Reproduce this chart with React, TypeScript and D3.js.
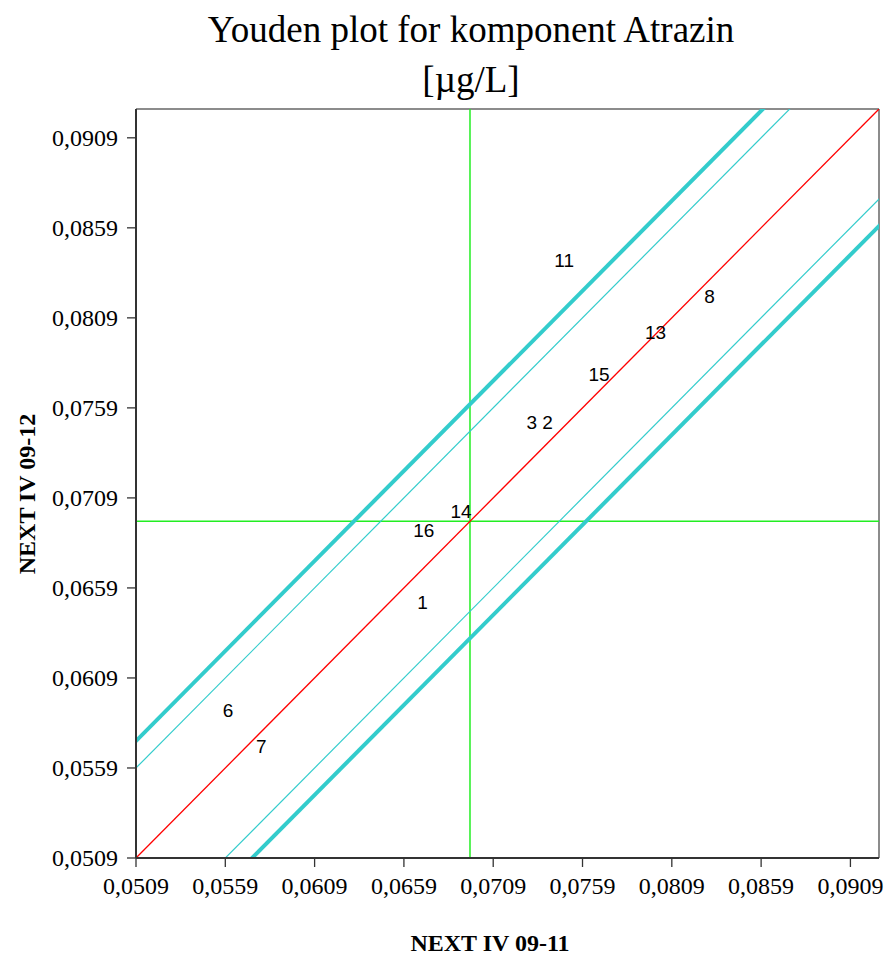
import React from 'react';
import * as d3 from 'd3';

// lab results, sample 09-11 (x) vs 09-12 (y)
const labIds = ['1', '2', '3', '6', '7', '8', '11', '13', '14', '15', '16'];
const sampleA = [0.06695, 0.07394, 0.07306, 0.05606, 0.05792, 0.08301, 0.07487, 0.07999, 0.0691, 0.07682, 0.06701];
const sampleB = [0.0651, 0.07508, 0.07508, 0.05908, 0.05708, 0.08208, 0.08412, 0.08008, 0.07014, 0.07779, 0.06908];

const tickVals = [0.0509, 0.0559, 0.0609, 0.0659, 0.0709, 0.0759, 0.0809, 0.0859, 0.0909];
const axisMin = 0.0509;
const axisMax = 0.0925;
const median = 0.0696;
// parallel limits around y = x
const thinOffsets = [-0.005, 0.005];
const thickOffsets = [-0.0065, 0.0065];

const W = 892;
const H = 957;
const margin = { top: 109, right: 13, bottom: 99, left: 136 };

export default function App() {
  const x = d3.scaleLinear().domain([axisMin, axisMax]).range([margin.left, W - margin.right]);
  const y = d3.scaleLinear().domain([axisMin, axisMax]).range([H - margin.bottom, margin.top]);
  const fmt = (v: number) => d3.format('.4f')(v).replace('.', ',');

  const x0 = x.range()[0], x1 = x.range()[1];
  const y0 = y.range()[0], y1 = y.range()[1];

  const diag = (off: number) => {
    const line = d3.line<number>().x((v) => x(v)).y((v) => y(v + off));
    return line([axisMin - 0.01, axisMax + 0.01]) as string;
  };

  return (
    <svg width={W} height={H} style={{ position: 'absolute', left: 0, top: 0, background: '#fff' }}>
      <defs>
        <clipPath id="plot">
          <rect x={x0} y={y1} width={x1 - x0} height={y0 - y1} />
        </clipPath>
      </defs>

      <text x={471} y={42} textAnchor="middle" fontFamily="Liberation Serif" fontSize={37}>
        Youden plot for komponent Atrazin
      </text>
      <text x={471} y={92} textAnchor="middle" fontFamily="Liberation Serif" fontSize={37}>
        [µg/L]
      </text>

      {/* frame top/right */}
      <line x1={x0} x2={x1} y1={y1} y2={y1} stroke="#8c8c8c" strokeWidth={2} />
      <line x1={x1} x2={x1} y1={y1} y2={y0} stroke="#8c8c8c" strokeWidth={2} />

      <g clipPath="url(#plot)">
        <line x1={x(median)} x2={x(median)} y1={y0} y2={y1} stroke="#22ee22" strokeWidth={1.5} />
        <line x1={x0} x2={x1} y1={y(median)} y2={y(median)} stroke="#22ee22" strokeWidth={1.5} />
        {thickOffsets.map((o) => (
          <path key={'k' + o} d={diag(o)} stroke="#33cccc" strokeWidth={4} fill="none" />
        ))}
        {thinOffsets.map((o) => (
          <path key={'t' + o} d={diag(o)} stroke="#33cccc" strokeWidth={1.2} fill="none" />
        ))}
        <path d={diag(0)} stroke="#ff0000" strokeWidth={1.3} fill="none" />
      </g>

      {labIds.map((id, i) => (
        <text
          key={id}
          x={x(sampleA[i])}
          y={y(sampleB[i])}
          dy="0.35em"
          textAnchor="middle"
          fontFamily="Liberation Sans"
          fontSize={19}
          fill="#000"
        >
          {id}
        </text>
      ))}

      {/* axes */}
      <line x1={x0} x2={x1} y1={y0} y2={y0} stroke="#333" strokeWidth={2} />
      <line x1={x0} x2={x0} y1={y1} y2={y0} stroke="#333" strokeWidth={2} />
      {tickVals.map((t) => (
        <g key={'x' + t}>
          <line x1={x(t)} x2={x(t)} y1={y0} y2={y0 + 9} stroke="#333" strokeWidth={1.3} />
          <text x={x(t)} y={y0 + 36} textAnchor="middle" fontFamily="Liberation Serif" fontSize={24}>
            {fmt(t)}
          </text>
        </g>
      ))}
      {tickVals.map((t) => (
        <g key={'y' + t}>
          <line x1={x0 - 9} x2={x0} y1={y(t)} y2={y(t)} stroke="#333" strokeWidth={1.3} />
          <text x={x0 - 18} y={y(t)} dy="0.33em" textAnchor="end" fontFamily="Liberation Serif" fontSize={24}>
            {fmt(t)}
          </text>
        </g>
      ))}

      <text x={490} y={951} textAnchor="middle" fontFamily="Liberation Serif" fontWeight="bold" fontSize={24}>
        NEXT IV 09-11
      </text>
      <text
        transform={`translate(35, 494) rotate(-90)`}
        textAnchor="middle"
        fontFamily="Liberation Serif"
        fontWeight="bold"
        fontSize={24}
      >
        NEXT IV 09-12
      </text>
    </svg>
  );
}
